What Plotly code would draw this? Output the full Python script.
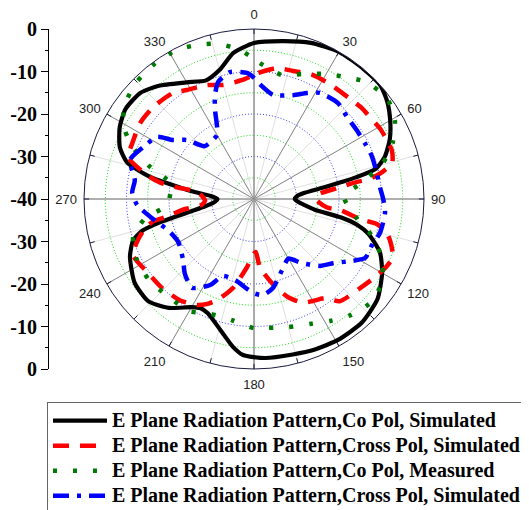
import plotly.graph_objects as go

# ---------------- data (theta in degrees, clockwise from top; r in dB) ----------------
co_sim_theta = [0, 10, 20, 30, 40, 48, 54, 60, 66, 72, 76, 78, 79, 80.5, 83, 86, 90, 94, 97, 100,
                102, 104, 107, 113, 120, 129, 139, 149, 158, 166, 176, 184, 188, 194, 202, 206,
                210, 218, 226, 235, 245, 251, 254, 256, 258, 261, 265, 270, 274, 277, 280, 282,
                286, 291, 298, 305, 313, 320, 330, 338, 345, 352, 360]
co_sim_r = [-3.3, -2.3, -0.9, 0, 0, 0, -1.2, -3, -5, -7.6, -10.4, -15.5, -19, -23, -28, -29.8, -30.4,
            -29.5, -28, -25.5, -19, -15, -11.8, -7.8, -5.2, -2.6, -1.4, -1.4, -1.8, -2.3, -2.5,
            -3.2, -4.8, -8, -11, -11.4, -10.6, -7.5, -5.4, -5.7, -7.8, -9.9, -12.5, -17, -23, -27.9,
            -30.5, -31.4, -29.8, -25.5, -20, -15, -9, -6.2, -4.2, -3.1, -3.4, -5.2, -8.3, -9.9,
            -8.6, -5.3, -3.3]

cross_sim_theta = [0, 2, 10, 17, 25, 33, 43, 50, 53, 61, 66, 70.5, 75.4, 78, 80.2, 80.6, 82.6, 85.6,
                   90, 96.5, 97.6, 100.7, 101.5, 104, 106.8, 112.6, 117, 122.8, 130, 140, 144.4, 150,
                   154.8, 161, 168, 175, 178, 179.5, 186, 193.3, 200, 204, 208.3, 216, 226, 235,
                   245.2, 250.5, 255, 257.5, 258.5, 261.3, 263.5, 268, 272, 277.3, 278.6, 280,
                   282.6, 288.4, 294.7, 303.7, 312.3, 322.6, 328.4, 337.6, 344.8, 354, 360]
cross_sim_r = [-10.8, -10.3, -8.7, -8.5, -7.7, -7.6, -7.4, -6.8, -6.7, -6, -5.8, -5.6, -6.4, -9, -12.3,
               -15.4, -20.4, -24.6, -25.5, -22.8, -19.2, -14.6, -10.5, -8, -6.6, -4.6, -5, -6.1,
               -7.4, -8.6, -11.3, -12.3, -13, -15.6, -19.8, -23.8, -27.5, -27.3, -23.8, -18.5,
               -14.7, -13, -11.7, -10.5, -9.9, -9.6, -8.6, -11, -13.5, -15.7, -19.1, -22.8,
               -27.6, -28.5, -28, -26.4, -21.6, -17.5, -14.2, -8.8, -8.5, -7.8, -7.9, -8.6,
               -9.9, -11, -12.2, -11.9, -10.8]

co_meas_theta = [0, 2.5, 12.7, 21.4, 29, 36.7, 43.7, 52.8, 61, 67.7, 74.4, 81, 88.7, 100, 108, 115,
                 122.6, 131, 140, 147.7, 155.9, 165, 174, 180, 190.3, 200.5, 209.7, 221.3, 233,
                 243.4, 252.6, 260, 266, 280.5, 287.5, 293.5, 299.5, 306.4, 315, 324, 332.7, 340,
                 347, 354.6, 360]
co_meas_r = [-7, -8, -10.1, -8.4, -6.3, -4.2, -1.9, -0.7, -2.1, -4.7, -8.5, -14, -18.8, -15.7, -10.4,
             -6.8, -4.2, -3.2, -4.4, -6.1, -7.8, -8.8, -9.5, -9.6, -11, -11.1, -9.6, -9.4, -8.8,
             -9, -10.2, -14, -19.5, -20, -14.1, -8.7, -4.6, -2.3, -1, -0.5, -0.5, -1.4, -2.5,
             -4.8, -7]

cross_sim2_theta = [0, 3, 10.4, 20.6, 26.6, 31.9, 41.2, 48.6, 56.1, 63.4, 70, 76.3, 85, 90, 96, 105,
                    111.3, 118, 124, 129, 135.4, 143.3, 150, 158.5, 168, 174.6, 180.6, 193, 202,
                    207, 215, 223, 229.3, 240.5, 250, 256.7, 267, 273, 279, 287.5, 295, 302.6,
                    306, 311.4, 317, 330, 333.4, 336.3, 339.4, 343, 349.3, 356.8, 360]
cross_sim2_r = [-11.5, -13, -15.1, -13.9, -12.1, -10.6, -10, -10.8, -10.9, -10.8, -10.5, -10.5, -10.2,
                -9.6, -9, -9.3, -10.2, -10.4, -13.7, -16, -17.9, -21.2, -23.8, -22, -18.6, -17.3,
                -17.9, -20.4, -20.5, -17.3, -14.5, -16.1, -18, -19.5, -18.5, -16.5, -12.5, -11.3,
                -11.6, -9.4, -11.2, -12.9, -16.4, -19, -23, -22.6, -20.5, -17.2, -13.9, -11.2,
                -9.6, -10.3, -11.5]

series_names = ["E Plane Radiation Pattern,Co Pol, Simulated",
                "E Plane Radiation Pattern,Cross Pol, Simulated",
                "E Plane Radiation Pattern,Co Pol, Measured",
                "E Plane Radiation Pattern,Cross Pol, Simulated"]

angle_ticks = list(range(0, 360, 15))
angle_text = [str(a) if a % 30 == 0 else "" for a in angle_ticks]
ring_levels = [-35, -30, -25, -20, -15, -10, -5]
left_tickvals = [40, 30, 20, 10, 0, -10, -20, -30, -40]
left_ticktext = ["0", "-10", "-20", "-30", "-40", "-30", "-20", "-10", "0"]

# ---------------- figure ----------------
# the page body has an 8px margin, so the figure is laid out in reference pixels minus 8
OFF = 8
W, H = 529 - OFF, 510 - OFF
px = lambda x: (x - OFF) / W
py = lambda y: 1 - (y - OFF) / H
R_MIN, R_MAX = -40, 0

fig = go.Figure()

# dotted rings (alternating green / blue)
circle_theta = list(range(0, 361, 2))
for lv in ring_levels:
    col = "rgba(0,215,0,0.9)" if lv % 10 else "rgba(40,40,255,0.9)"
    fig.add_trace(go.Scatterpolar(r=[lv] * len(circle_theta), theta=circle_theta, mode="lines",
                                  line=dict(color=col, width=1, dash="1px,2px"),
                                  showlegend=False, hoverinfo="skip"))
# darker spokes every 30 degrees
for a in range(0, 360, 30):
    main = a % 90 == 0
    fig.add_trace(go.Scatterpolar(r=[R_MIN, R_MAX], theta=[a, a], mode="lines",
                                  line=dict(color="#9a9a9a" if main else "#8a8a8a",
                                            width=1.6 if main else 1),
                                  showlegend=False, hoverinfo="skip"))
# small inward ticks on the outer ring every 15 degrees
tick_th, tick_r = [], []
for a in angle_ticks:
    tick_th += [a, a, None]
    tick_r += [R_MAX - 1.2, R_MAX, None]
fig.add_trace(go.Scatterpolar(r=tick_r, theta=tick_th, mode="lines",
                              line=dict(color="#1a1a40", width=1),
                              showlegend=False, hoverinfo="skip"))

styles = [dict(color="black", width=4.2),
          dict(color="#ff0000", width=4.5, dash="16px,11px"),
          dict(color="#007a00", width=4.5, dash="4px,16px"),
          dict(color="#0000ff", width=4.5, dash="16px,8px,4px,8px")]
data = [(co_sim_theta, co_sim_r), (cross_sim_theta, cross_sim_r),
        (co_meas_theta, co_meas_r), (cross_sim2_theta, cross_sim2_r)]
for (th, rr), st, nm in zip(data, styles, series_names):
    fig.add_trace(go.Scatterpolar(r=rr, theta=th, mode="lines",
                                  name='<span style="font-size:20px">' + nm + '</span>',
                                  line=dict(shape="spline", smoothing=0.6, **st),
                                  hoverinfo="skip"))

# invisible helper so that the left dB scale (cartesian y axis) is drawn
fig.add_trace(go.Scatter(x=[0.5, 0.5], y=[min(left_tickvals), max(left_tickvals)], mode="markers",
                         marker=dict(opacity=0), showlegend=False, hoverinfo="skip"))

fig.update_layout(
    width=W, height=H,
    margin=dict(l=0, r=0, t=0, b=0, autoexpand=False),
    paper_bgcolor="white", plot_bgcolor="rgba(0,0,0,0)",
    showlegend=True,
    polar=dict(
        domain=dict(x=[px(84), px(424)], y=[py(369), py(29)]),
        bgcolor="white",
        radialaxis=dict(range=[R_MIN, R_MAX], showgrid=False, showticklabels=False, ticks="",
                        showline=False),
        angularaxis=dict(rotation=90, direction="clockwise", tickmode="array",
                         tickvals=angle_ticks, ticktext=angle_text, ticks="outside", ticklen=4,
                         tickcolor="rgba(0,0,0,0)", gridcolor="#e0e0e0", showline=True,
                         linecolor="#1a1a40", linewidth=1,
                         tickfont=dict(family="Liberation Sans, Arial", size=13, color="#222222")),
    ),
    xaxis=dict(domain=[px(49), px(60)], range=[0, 1], visible=False),
    yaxis=dict(domain=[py(369), py(29)], range=[-40, 40], anchor="x", side="left",
               tickmode="array", tickvals=left_tickvals, ticktext=left_ticktext,
               showline=True, linecolor="black", linewidth=1, ticks="outside", ticklen=7,
               tickcolor="black", showgrid=False, zeroline=False,
               minor=dict(dtick=5, ticks="outside", ticklen=3, tickcolor="black"),
               tickfont=dict(family="Liberation Serif, Times New Roman", size=20, color="black",
                             weight="bold")),
    legend=dict(x=px(47), y=py(402), xanchor="left", yanchor="top",
                bordercolor="#666666", borderwidth=1, bgcolor="white",
                itemwidth=54, tracegroupgap=0,
                font=dict(family="Liberation Serif, Times New Roman", size=17, color="black",
                          weight="bold")),
)

fig.write_html("out.html")
